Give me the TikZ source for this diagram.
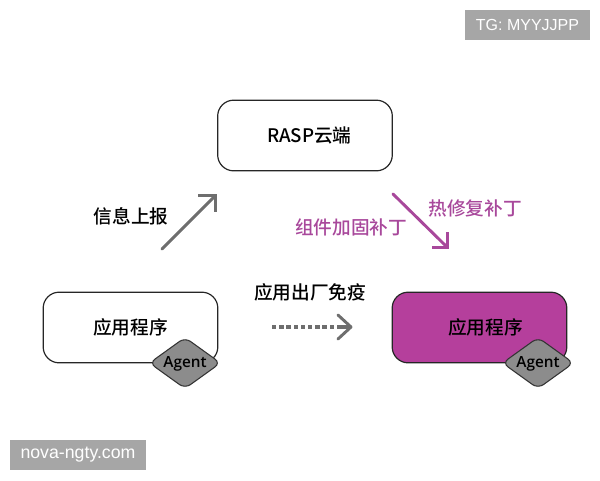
\documentclass[tikz,border=0pt]{standalone}
\usepackage{fontspec}
\setmainfont{Noto Sans CJK SC Medium}
\newfontfamily\latinf{Open Sans Semibold}
\newfontfamily\uif{Liberation Sans}
\definecolor{mag}{HTML}{B53F9C}
\definecolor{purp}{HTML}{A8489B}
\definecolor{arrowgray}{HTML}{6E6E6E}
\definecolor{diagray}{HTML}{8C8C8C}
\definecolor{wm}{HTML}{A6A6A6}
\tikzset{
  appbox/.style={draw=black!85,line width=0.9pt,rounded corners=12pt,minimum width=131pt,minimum height=53pt,inner sep=0pt,font=\fontsize{14pt}{16pt}\selectfont},
  agentd/.style={inner sep=0pt,font=\latinf\fontsize{11.5pt}{13pt}\selectfont},
  lab/.style={inner sep=0pt,font=\fontsize{14pt}{16pt}\selectfont},
  plab/.style={lab,text=purp},
  bigarrow/.style={line width=2.2pt,line cap=round,line join=round},
  headline/.style={line width=2.5pt,line cap=butt,line join=miter},
  wmark/.style={fill=wm,text=white,inner sep=0pt,font=\uif\fontsize{12pt}{14pt}\selectfont}
}
\begin{document}
\begin{tikzpicture}[x=0.75pt,y=-0.75pt]
\useasboundingbox (0,0) rectangle (600,480);
\node[appbox] (cloud) at (305,135.5) {\hspace*{6.5pt}RASP云端};
\node[appbox] (left) at (130.5,327.5) {应用程序};
\node[appbox,fill=mag] (right) at (479.5,327.5) {\hspace*{9pt}应用程序};
\foreach \n/\cx in {dl/185,dr/538}{
  \coordinate (\n) at (\cx,363);
  \draw[draw=black!80,fill=diagray,line width=0.8pt,rounded corners=5pt]
    (\cx-35.5,363) -- (\cx,337.5) -- (\cx+35.5,363) -- (\cx,388.5) -- cycle;
}
\node[agentd] (al) at ([yshift=-0.7pt]dl) {Agent};
\node[agentd] (ar) at ([yshift=-0.7pt]dr) {Agent};
\coordinate (a1s) at (162,249); \coordinate (a1e) at (215.5,195.5);
\draw[arrowgray,bigarrow] (a1s) -- (a1e);
\draw[arrowgray,headline] (198,195.5) -- (a1e) -- (215.5,212);
\coordinate (a2s) at (393,194); \coordinate (a2e) at (447.5,247.5);
\draw[purp,bigarrow] (a2s) -- (a2e);
\draw[purp,headline] (432,247.5) -- (a2e) -- (447.5,232);
\coordinate (a3e) at (351,327);
\foreach \dx in {272,279.2,...,338}{
  \fill[arrowgray] (\dx,325.4) rectangle (\dx+4.4,328.6);
}
\draw[arrowgray,bigarrow] (338,315) -- (a3e) -- (338,339);
\fill[arrowgray] (338,325.4) rectangle (351,328.6);
\node[lab] (l1) at (131,216) {信息上报};
\node[lab] (l2) at (310,292) {应用出厂免疫};
\node[plab] (l3) at (351,227) {组件加固补丁};
\node[plab] (l4) at (475,208) {热修复补丁};
\node[wmark,minimum width=94pt,minimum height=22.5pt] (w1) at (527.5,25) {TG: MYYJJPP};
\node[wmark,minimum width=102pt,minimum height=22.5pt,font=\uif\fontsize{13.3pt}{15pt}\selectfont] (w2) at (78,455) {nova-ngty.com};
\end{tikzpicture}
\end{document}
